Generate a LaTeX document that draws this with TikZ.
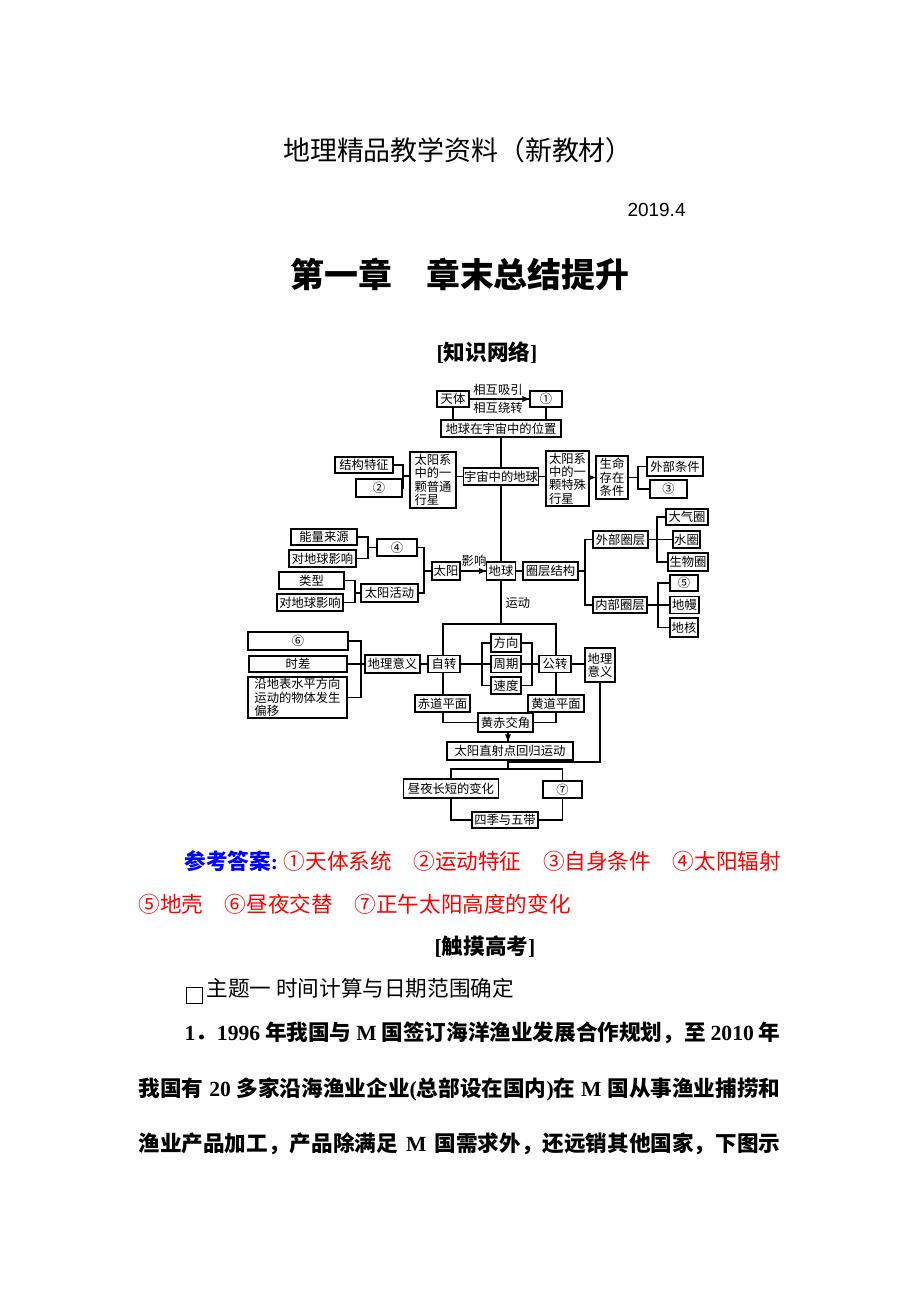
\documentclass[tikz,border=0pt]{standalone}
\usepackage{fontspec}
\setmainfont{Liberation Serif}
\newfontfamily\cjk{Noto Sans CJK SC}
\newfontfamily\arialf{Liberation Sans}
\XeTeXlinebreaklocale "zh"
\XeTeXlinebreakskip=0pt plus 2pt
\newcommand\dgfont{\cjk\fontsize{7}{7.6}\selectfont}
\newcommand\txfont{\cjk\fontsize{12.3}{14}\selectfont}
\newcommand\latn[1]{{\rmfamily #1}}

\begin{document}
\begin{tikzpicture}[x=0.02cm,y=-0.02cm,line width=0.6pt]
\tikzstyle{every node}+=[inner sep=0pt,font=\dgfont]
\tikzstyle{box}=[draw=black,line width=0.8pt,align=center]
\tikzset{sz/.style 2 args={minimum width=#1*0.02cm,minimum height=#2*0.02cm}}
\useasboundingbox[fill=white] (0,0) rectangle (920,1302);

\node[anchor=base,font=\cjk\fontsize{15.3}{18}\selectfont] (head) at (458,160) {地理精品教学资料（新教材）};
\node[anchor=base west,font=\arialf\fontsize{10.8}{13}\selectfont] (date) at (627,216) {2019.4};
\node[anchor=base,font=\cjk\bfseries\fontsize{19.3}{22}\selectfont] (chap) at (460,287) {第一章　章末总结提升};
\node[anchor=base,font=\txfont\bfseries] (net) at (487,360) {\latn{[}知识网络\latn{]}};

\node[box,sz={32}{16}] (tianti) at (453,399) {天体};
\node[box,sz={32}{16}] (c1) at (546,399) {①};
\node (xy1) at (498,390) {相互吸引};
\node (xy2) at (498,408) {相互绕转};
\node[box,sz={120}{17}] (weizhi) at (501,428.5) {地球在宇宙中的位置};
\node[box,sz={75}{17}] (yuzhou) at (501,476.5) {宇宙中的地球};
\node[box,sz={46}{56},align=left] (putong) at (433,480) {太阳系\\中的一\\颗普通\\行星};
\node[box,sz={58}{16}] (jiegou) at (364,465) {结构特征};
\node[box,sz={46}{18}] (c2) at (379,488) {②};
\node[box,sz={43}{55},align=left] (teshu) at (567.5,478.5) {太阳系\\中的一\\颗特殊\\行星};
\node[box,sz={32}{43},align=left] (shengming) at (612,477.5) {生命\\存在\\条件};
\node[box,sz={56}{19}] (waibu) at (675,466.5) {外部条件};
\node[box,sz={37}{18}] (c3) at (668.5,489) {③};

\node[box,sz={66}{16}] (nengliang) at (324,537) {能量来源};
\node[box,sz={67}{17}] (yx1) at (322.5,558.5) {对地球影响};
\node[box,sz={40}{17}] (c4) at (397,547.5) {④};
\node[box,sz={65}{17}] (leixing) at (311.5,580.5) {类型};
\node[box,sz={66}{17}] (yx2) at (310,602.5) {对地球影响};
\node[box,sz={57}{18}] (huodong) at (389.5,593) {太阳活动};
\node[box,sz={28}{18}] (taiyang) at (446,571) {太阳};
\node (yx) at (474,561) {影响};
\node[box,sz={29}{18}] (diqiu) at (501,571) {地球};
\node[box,sz={55}{18}] (quanceng) at (550.5,571) {圈层结构};
\node[box,sz={55}{17}] (waiquan) at (620.5,539.5) {外部圈层};
\node[box,sz={54}{16}] (neiquan) at (620,605) {内部圈层};
\node[box,sz={42}{16}] (daqi) at (687,517) {大气圈};
\node[box,sz={27}{17}] (shui) at (686.5,539.5) {水圈};
\node[box,sz={40}{18}] (shengwu) at (688,562) {生物圈};
\node[box,sz={28}{16}] (c5) at (684,583) {⑤};
\node[box,sz={29}{17}] (diman) at (684.5,605) {地幔};
\node[box,sz={28}{19}] (dihe) at (684,627.5) {地核};
\node[anchor=west] (yd) at (505,603) {运动};

\node[box,sz={100}{18}] (c6) at (298,641) {⑥};
\node[box,sz={98}{16}] (shicha) at (298,664) {时差};
\node[box,sz={99}{41},align=left] (pianyi) at (297.5,697.5) {沿地表水平方向\\运动的物体发生\\偏移};
\node[box,sz={55}{18}] (yiyi1) at (392.5,664) {地理意义};
\node[box,sz={32}{17}] (zizhuan) at (444,664) {自转};
\node[box,sz={30}{18}] (fangxiang) at (506,643) {方向};
\node[box,sz={30}{17}] (zhouqi) at (506,664) {周期};
\node[box,sz={30}{17}] (sudu) at (506,685.5) {速度};
\node[box,sz={32}{17}] (gongzhuan) at (555,664) {公转};
\node[box,sz={30}{34},align=left] (yiyi2) at (600,665) {地理\\意义};
\node[box,sz={55}{17}] (chidao) at (442.5,703.5) {赤道平面};
\node[box,sz={56}{17}] (huangdao) at (556,703.5) {黄道平面};
\node[box,sz={55}{19}] (huangchi) at (505.5,722.5) {黄赤交角};
\node[box,sz={126}{18}] (zhishe) at (510,751) {太阳直射点回归运动};
\node[box,sz={95}{19}] (zhouye) at (451,788.5) {昼夜长短的变化};
\node[box,sz={39}{17}] (c7) at (562.5,789.5) {⑦};
\node[box,sz={66}{16}] (siji) at (505,820) {四季与五带};

\draw (tianti.east) -- (tianti.east -| c1.west);
\fill [black] (tianti.east -| c1.west) -- ++(-7,-3) -- ++(0,6);
\draw (tianti.south) -- (tianti.south |- weizhi.north);
\draw (c1.south) -- (c1.south |- weizhi.north);
\draw (weizhi.south) -- (yuzhou.north);
\draw (yuzhou.south) -- (diqiu.north);
\draw (yuzhou.west) -- (yuzhou.west -| putong.east);
\draw (yuzhou.east) -- (yuzhou.east -| teshu.west);
\coordinate (b1) at (403,476);
\draw (jiegou.east) -| (b1) |- (c2.east);
\draw (b1) -- (b1 -| putong.west);
\draw (shengming.west -| teshu.east) -- (shengming.west);
\fill [black] (shengming.west) -- ++(-7,-3) -- ++(0,6);
\coordinate (b2) at (638,477.5);
\draw (waibu.west) -| (b2) |- (c3.west);
\draw (shengming.east) -- (b2);

\coordinate (b3) at (368,547.5);
\draw (nengliang.east) -| (b3) |- (yx1.east);
\draw (b3) -- (c4.west);
\coordinate (b4) at (355,593);
\draw (leixing.east) -| (b4) |- (yx2.east);
\draw (b4) -- (huodong.west);
\coordinate (b5) at (424,571);
\draw (c4.east) -| (b5) |- (huodong.east);
\draw (b5) -- (taiyang.west);
\draw (taiyang.east) -- (diqiu.west);
\fill [black] (diqiu.west) -- ++(-7,-3) -- ++(0,6);
\draw (diqiu.east) -- (quanceng.west);
\coordinate (b6) at (585,571);
\draw (waiquan.west) -| (b6) |- (neiquan.west);
\draw (quanceng.east) -- (b6);
\coordinate (b7) at (657,539.5);
\draw (daqi.west) -| (b7) |- (shengwu.west);
\draw (waiquan.east) -- (shui.west);
\coordinate (b8) at (658,605);
\draw (c5.west) -| (b8) |- (dihe.west);
\draw (neiquan.east) -- (diman.west);

\coordinate (zl) at (443,624);
\coordinate (zr) at (556,624);
\draw (diqiu.south) -- (diqiu.south |- zl);
\draw (zizhuan.north -| zl) -- (zl) -- (zr) -- (gongzhuan.north -| zr);
\draw (zizhuan.south -| zl) -- (chidao.north -| zl);
\draw (chidao.south -| zl) |- (huangchi.west);
\draw (gongzhuan.south -| zr) -- (huangdao.north -| zr);
\draw (huangdao.south -| zr) |- (huangchi.east);
\coordinate (b9) at (482,664);
\coordinate (b10) at (532,664);
\draw (fangxiang.west) -| (b9) |- (sudu.west);
\draw (fangxiang.east) -| (b10) |- (sudu.east);
\draw (zizhuan.east) -- (zhouqi.west);
\draw (zhouqi.east) -- (gongzhuan.west);
\draw (yiyi1.east) -- (zizhuan.west);
\coordinate (b11) at (361,664);
\draw (c6.east) -| (b11) |- (pianyi.east);
\draw (shicha.east) -- (yiyi1.west);
\draw (gongzhuan.east) -- (gongzhuan.east -| yiyi2.west);

\coordinate (j1) at (508,762);
\coordinate (j2) at (508,769);
\draw (huangchi.south -| j1) -- (zhishe.north -| j1);
\fill [black] (zhishe.north -| j1) -- ++(-3,-7) -- ++(6,0);
\draw (yiyi2.south) |- (j1);
\draw (zhishe.south -| j1) -- (j2);
\draw (zhouye.north) |- (j2) -| (c7.north);
\draw (zhouye.south) |- (siji.west);
\draw (c7.south) |- (siji.east);

\node[anchor=base west,font=\txfont] (ans1) at (184,869) {\makebox[11.92cm][s]{{\color{blue}\bfseries 参考答案\latn{:}} {\color{red}①天体系统　②运动特征　③自身条件　④太阳辐射}}};
\node[anchor=base west,font=\txfont,text=red] (ans2) at (138,912) {⑤地壳　⑥昼夜交替　⑦正午太阳高度的变化};
\node[anchor=base,font=\txfont\bfseries] (gk) at (485,954) {\latn{[}触摸高考\latn{]}};
\node[draw,line width=0.8pt,minimum size=16*0.02cm] (sq) at (194.5,995.5) {};
\node[anchor=base west,font=\txfont] (topic) at (206,996) {主题一 时间计算与日期范围确定};
\node[anchor=base west,font=\txfont\bfseries] (q1) at (184,1040) {\makebox[11.92cm][s]{\latn{1}．\latn{1996} 年我国与 \latn{M} 国签订海洋渔业发展合作规划，至 \latn{2010} 年}};
\node[anchor=base west,font=\txfont\bfseries] (q2) at (138,1096) {\makebox[12.84cm][s]{我国有 \latn{20} 多家沿海渔业企业\latn{(}总部设在国内\latn{)}在 \latn{M} 国从事渔业捕捞和}};
\node[anchor=base west,font=\txfont\bfseries] (q3) at (138,1151) {\makebox[12.84cm][s]{渔业产品加工，产品除满足 \latn{M} 国需求外，还远销其他国家，下图示}};
\end{tikzpicture}
\end{document}
